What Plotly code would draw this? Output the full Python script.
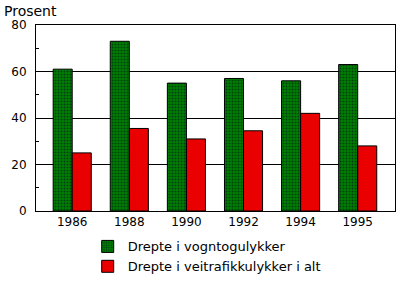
import plotly.graph_objects as go

years = ["1986", "1988", "1990", "1992", "1994", "1995"]
vogntog = [61, 73, 55, 57, 56, 63]
veitrafikk = [25, 35.5, 31, 34.5, 42, 28]
names = ["Drepte i vogntogulykker", "Drepte i veitrafikkulykker i alt"]

fig = go.Figure()
fig.add_trace(go.Bar(
    x=years, y=vogntog, name=names[0],
    marker=dict(color="#008000", line=dict(color="black", width=1),
                pattern=dict(shape=".", fgcolor="#000020", bgcolor="#008000",
                             size=3, solidity=0.35)),
))
fig.add_trace(go.Bar(
    x=years, y=veitrafikk, name=names[1],
    marker=dict(color="#ff0000", line=dict(color="black", width=1),
                pattern=dict(shape=".", fgcolor="#900000", bgcolor="#ff0000",
                             size=2, solidity=0.4)),
))

fig.update_layout(
    width=400, height=288,
    margin=dict(l=36, r=5, t=25, b=77),
    plot_bgcolor="white", paper_bgcolor="white",
    barmode="group", bargap=0.333, bargroupgap=0,
    font=dict(family="DejaVu Sans", size=12, color="black"),
    showlegend=True,
    legend=dict(x=0.144, y=-0.11, xanchor="left", yanchor="top",
                font=dict(size=13), tracegroupgap=0, bgcolor="rgba(0,0,0,0)"),
    annotations=[dict(text="Prosent", xref="paper", yref="paper",
                      x=-0.095, y=1.13, xanchor="left", yanchor="top",
                      showarrow=False, font=dict(size=14))],
)
fig.update_xaxes(type="category", range=[-0.634, 5.653], showline=True,
                 linecolor="black", linewidth=1, mirror=True, ticks="",
                 showgrid=False)
fig.update_yaxes(range=[0, 80], tickvals=[0, 20, 40, 60, 80], showline=True,
                 linecolor="black", linewidth=1, mirror=True, ticks="",
                 showgrid=True, gridcolor="black", gridwidth=1,
                 zeroline=False, ticklabelstandoff=6,
                 minor=dict(tickvals=[10, 30, 50, 70], ticks="inside",
                            ticklen=3, tickcolor="black", showgrid=False))

fig.write_html("out.html")
